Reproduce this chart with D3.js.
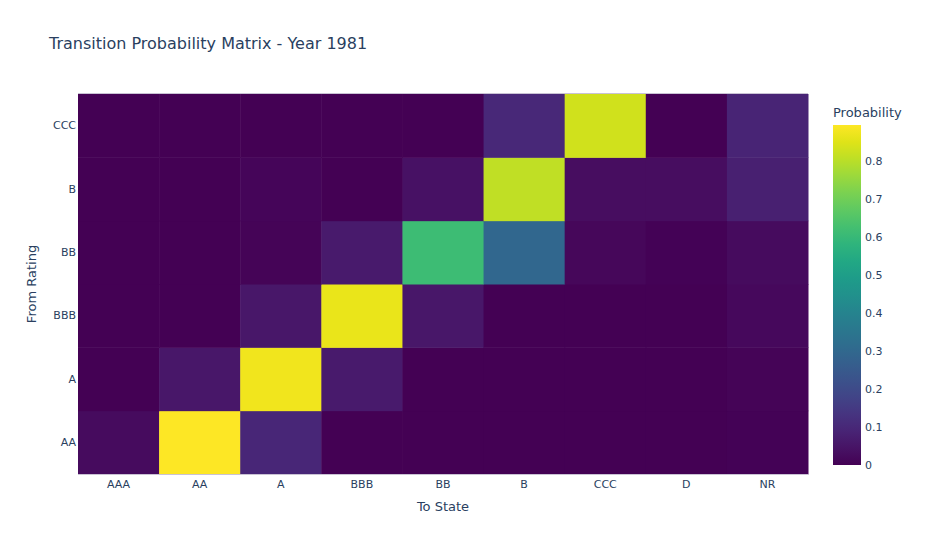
<!DOCTYPE html>
<html>
<head>
<meta charset="utf-8">
<script src="https://cdn.jsdelivr.net/npm/d3@7"></script>
<style>
  body { margin: 0; background: #fff; }
  svg text { font-family: "DejaVu Sans", Verdana, sans-serif; fill: #2a3f5f; }
</style>
</head>
<body>
<div id="chart"></div>
<script>
const toStates = ["AAA", "AA", "A", "BBB", "BB", "B", "CCC", "D", "NR"];
const fromRatings = ["AA", "A", "BBB", "BB", "B", "CCC"];

// one row per "from" rating, in the order of fromRatings
const probAA  = [0.025, 0.895, 0.095, 0.002, 0.001, 0.0,   0.0,   0.0,   0.004];
const probA   = [0.001, 0.055, 0.875, 0.060, 0.003, 0.001, 0.0,   0.0,   0.008];
const probBBB = [0.0,   0.002, 0.055, 0.865, 0.055, 0.003, 0.001, 0.001, 0.020];
const probBB  = [0.0,   0.0,   0.010, 0.060, 0.615, 0.295, 0.015, 0.006, 0.025];
const probB   = [0.0,   0.0,   0.012, 0.003, 0.040, 0.810, 0.030, 0.030, 0.080];
const probCCC = [0.0,   0.0,   0.0,   0.0,   0.0,   0.100, 0.830, 0.0,   0.090];
const matrix = [probAA, probA, probBBB, probBB, probB, probCCC];

const colorTicks = [0, 0.1, 0.2, 0.3, 0.4, 0.5, 0.6, 0.7, 0.8];

const W = 928, H = 536;
const plot = { left: 78, right: 808, top: 94, bottom: 474 };
const bar = { left: 833, width: 28, top: 125, bottom: 465 };

const cells = [];
fromRatings.forEach((from, i) => {
  toStates.forEach((to, j) => cells.push({ from, to, value: matrix[i][j] }));
});
const maxValue = d3.max(cells, (d) => d.value);

const svg = d3.select("#chart").append("svg")
  .attr("width", W).attr("height", H);

const x = d3.scaleBand().domain(toStates).range([plot.left, plot.right]);
const y = d3.scaleBand().domain(fromRatings).range([plot.bottom, plot.top]);
const color = d3.scaleSequential(d3.interpolateViridis).domain([0, maxValue]);

svg.append("g").selectAll("rect")
  .data(cells)
  .join("rect")
  .attr("x", (d) => x(d.to))
  .attr("y", (d) => y(d.from))
  .attr("width", x.bandwidth() + 0.5)
  .attr("height", y.bandwidth() + 0.5)
  .attr("fill", (d) => color(d.value));

// faint edge lines like the reference
svg.append("line")
  .attr("x1", plot.left).attr("x2", plot.right)
  .attr("y1", plot.top - 0.5).attr("y2", plot.top - 0.5)
  .attr("stroke", "#c9c2d4").attr("stroke-width", 1);
svg.append("line")
  .attr("x1", plot.left).attr("x2", plot.right)
  .attr("y1", plot.bottom + 0.5).attr("y2", plot.bottom + 0.5)
  .attr("stroke", "#c9c2d4").attr("stroke-width", 1);

const xAxis = svg.append("g")
  .attr("transform", `translate(0,${plot.bottom})`)
  .call(d3.axisBottom(x).tickSize(0).tickPadding(6));
xAxis.select(".domain").remove();
xAxis.selectAll("text").attr("font-size", 11).style("fill", "#2a3f5f");

const yAxis = svg.append("g")
  .attr("transform", `translate(${plot.left},0)`)
  .call(d3.axisLeft(y).tickSize(0).tickPadding(2));
yAxis.select(".domain").remove();
yAxis.selectAll("text").attr("font-size", 11).style("fill", "#2a3f5f");

svg.append("text")
  .attr("x", 49).attr("y", 49)
  .attr("font-size", 16)
  .text("Transition Probability Matrix - Year 1981");

svg.append("text")
  .attr("x", (plot.left + plot.right) / 2).attr("y", 511)
  .attr("text-anchor", "middle")
  .attr("font-size", 13)
  .text("To State");

svg.append("text")
  .attr("transform", `translate(36,${(plot.top + plot.bottom) / 2}) rotate(-90)`)
  .attr("text-anchor", "middle")
  .attr("font-size", 13)
  .text("From Rating");

// colour bar
const defs = svg.append("defs");
const grad = defs.append("linearGradient")
  .attr("id", "viridis-grad")
  .attr("x1", 0).attr("y1", 1).attr("x2", 0).attr("y2", 0);
d3.range(0, 1.0001, 0.05).forEach((t) => {
  grad.append("stop")
    .attr("offset", t)
    .attr("stop-color", d3.interpolateViridis(t));
});

const barScale = d3.scaleLinear().domain([0, maxValue]).range([bar.bottom, bar.top]);

svg.append("rect")
  .attr("x", bar.left).attr("y", bar.top)
  .attr("width", bar.width).attr("height", bar.bottom - bar.top)
  .attr("fill", "url(#viridis-grad)");

const barAxis = svg.append("g")
  .attr("transform", `translate(${bar.left + bar.width},0)`)
  .call(d3.axisRight(barScale).tickValues(colorTicks).tickFormat(d3.format("~g")).tickSize(0).tickPadding(4));
barAxis.select(".domain").remove();
barAxis.selectAll("text").attr("font-size", 11).style("fill", "#2a3f5f");

svg.append("text")
  .attr("x", bar.left).attr("y", 117)
  .attr("font-size", 13)
  .text("Probability");
</script>
</body>
</html>
